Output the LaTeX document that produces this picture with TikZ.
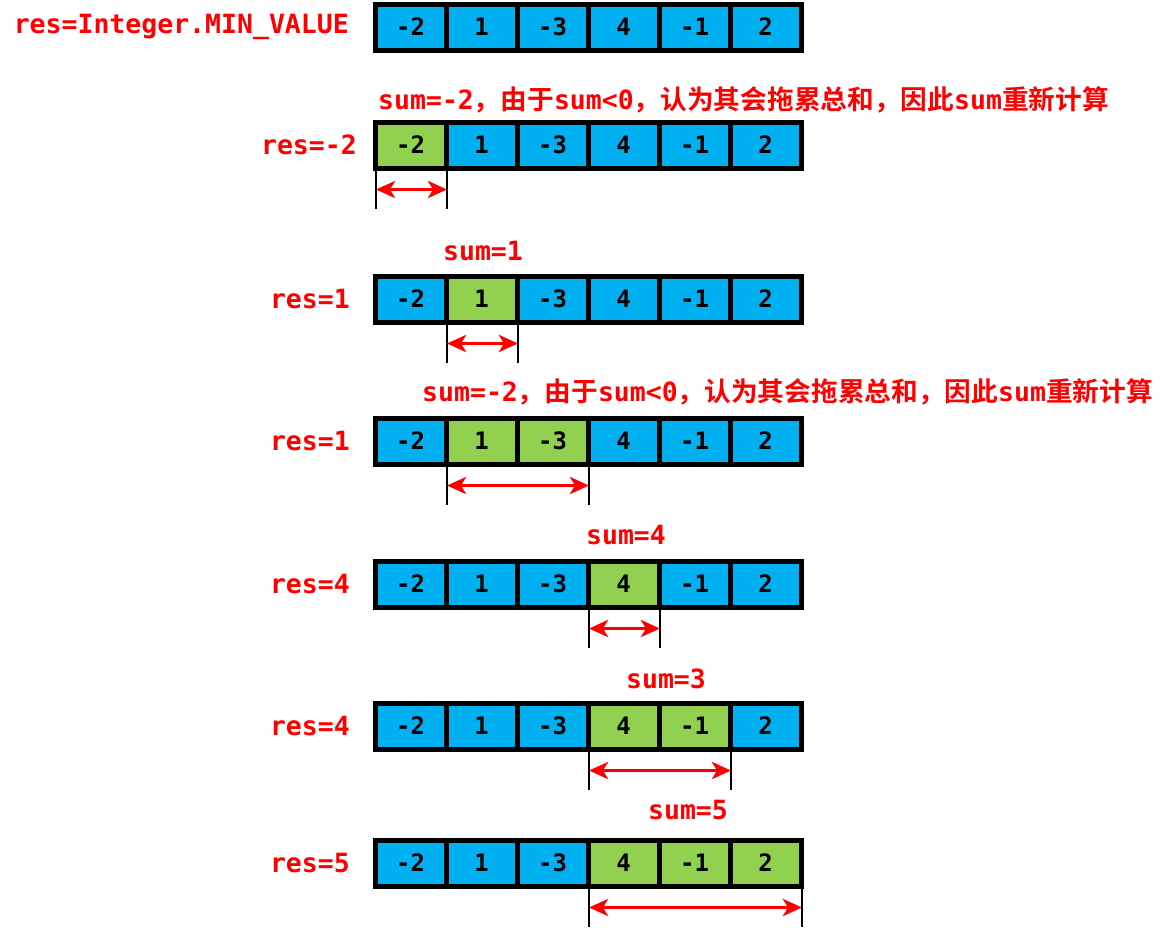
\documentclass[tikz,border=0pt]{standalone}
\usepackage{fontspec}
\setmainfont{DejaVu Sans Mono}
\newfontfamily\cjk{Noto Sans CJK SC}[BoldFont={* Bold}]
\usetikzlibrary{arrows.meta,calc}
\definecolor{cellblue}{HTML}{00B0F0}
\definecolor{cellgreen}{HTML}{92D050}
\definecolor{lblred}{HTML}{FF0000}
\newcommand{\zh}[1]{{\fontsize{26.7}{26.7}\selectfont\cjk\bfseries #1}}
\tikzset{
  cell/.style={draw=black,line width=5pt,minimum width=71pt,minimum height=46pt,
    inner sep=0pt,outer sep=0pt,font=\fontsize{24}{24}\selectfont\bfseries,text=black},
  lbl/.style={text=lblred,font=\fontsize{26.5}{26.5}\selectfont\bfseries,inner sep=0pt},
  tickline/.style={draw=black,line width=1.8pt},
  span/.style={draw=lblred,line width=3.4pt,{Stealth[length=19pt,width=17pt,inset=5pt]}-{Stealth[length=19pt,width=17pt,inset=5pt]}}
}
\newcommand\cellrow[4]{%
  \foreach \v [count=\i] in {-2,1,-3,4,-1,2}{%
    \pgfmathsetmacro\isg{(\i>=#3 && \i<=#4) ? 1 : 0}%
    \ifdim\isg pt>0.5pt \def\fc{cellgreen}\else\def\fc{cellblue}\fi
    \node[cell,fill=\fc] (#1c\i) at ({410.5+71*(\i-1)},#2) {\v};
  }%
}
% #1 row, #2 first cell, #3 last cell
\newcommand\spanarrow[3]{%
  \coordinate (#1ta) at ($(#1c#2.south west)+(1,2.5)$);
  \coordinate (#1tb) at ($(#1c#3.south east)+(1,2.5)$);
  \coordinate (#1ba) at ($(#1ta)+(0,38)$);
  \coordinate (#1bb) at ($(#1tb)+(0,38)$);
  \coordinate (#1aa) at ($(#1ta)!0.5!(#1ba)$);
  \coordinate (#1ab) at ($(#1tb)!0.5!(#1bb)$);
  \draw[tickline] (#1ta) -- (#1ba);
  \draw[tickline] (#1tb) -- (#1bb);
  \draw[span] (#1aa) -- (#1ab);
}
\begin{document}
\begin{tikzpicture}[x=1pt,y=-1pt]
\useasboundingbox[fill=white] (0,0) rectangle (1165,930);

% row 1
\cellrow{a}{27}{0}{0}
\node[lbl,anchor=east] (la) at (349,27) {res=Integer.MIN\_VALUE};

% row 2
\cellrow{b}{145}{1}{1}
\node[lbl,anchor=east] (lb) at (357,145) {res=-2};
\node[lbl,anchor=west] (sb) at (378,100) {sum=-2\zh{，由于}sum<0\zh{，认为其会拖累总和，因此}sum\zh{重新计算}};
\spanarrow{b}{1}{1}

% row 3
\cellrow{c}{299}{2}{2}
\node[lbl,anchor=east] (lc) at (350,299) {res=1};
\node[lbl] (sc) at (483,251) {sum=1};
\spanarrow{c}{2}{2}

% row 4
\cellrow{d}{441}{2}{3}
\node[lbl,anchor=east] (ld) at (350,441) {res=1};
\node[lbl,anchor=west] (sd) at (422,392) {sum=-2\zh{，由于}sum<0\zh{，认为其会拖累总和，因此}sum\zh{重新计算}};
\spanarrow{d}{2}{3}

% row 5
\cellrow{e}{584}{4}{4}
\node[lbl,anchor=east] (le) at (350,584) {res=4};
\node[lbl] (se) at (626,535) {sum=4};
\spanarrow{e}{4}{4}

% row 6
\cellrow{f}{726}{4}{5}
\node[lbl,anchor=east] (lf) at (350,726) {res=4};
\node[lbl] (sf) at (666,679) {sum=3};
\spanarrow{f}{4}{5}

% row 7
\cellrow{g}{863}{4}{6}
\node[lbl,anchor=east] (lg) at (350,863) {res=5};
\node[lbl] (sg) at (688,810) {sum=5};
\spanarrow{g}{4}{6}
\end{tikzpicture}
\end{document}
